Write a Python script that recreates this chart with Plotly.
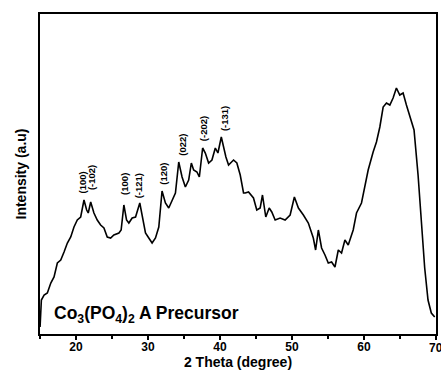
import plotly.graph_objects as go

# 2 theta (degree)
two_theta = [15.01, 15.19, 15.57, 16.02, 16.50, 16.95, 17.41, 17.88, 18.34, 18.80,
             19.27, 19.72, 20.18, 20.65, 21.11, 21.48, 21.70, 22.04, 22.49, 22.95,
             23.42, 23.88, 24.34, 24.81, 25.26, 25.96, 26.27, 26.65, 27.02, 27.34,
             27.80, 28.27, 28.86, 29.65, 30.11, 30.57, 31.04, 31.50, 31.95, 32.42,
             32.88, 33.34, 33.81, 34.27, 34.73, 35.19, 35.65, 36.02, 36.34, 36.80,
             37.13, 37.59, 37.96, 38.42, 38.88, 39.35, 39.71, 40.18, 40.50, 40.82,
             41.19, 41.88, 42.34, 42.81, 43.27, 43.50, 43.96, 44.65, 45.11, 45.58,
             45.90, 46.36, 46.83, 47.19, 47.66, 48.35, 49.04, 49.74, 50.33, 50.89,
             51.58, 52.27, 52.96, 53.28, 53.66, 54.11, 54.58, 55.04, 55.50, 55.97,
             56.43, 56.88, 57.35, 57.81, 58.50, 58.96, 59.65, 60.12, 60.58, 61.27,
             61.73, 62.20, 62.66, 63.12, 63.59, 64.04, 64.50, 64.97, 65.43, 65.89,
             66.35, 66.95, 67.51, 67.96, 68.43, 68.89, 69.35, 69.82]
# intensity (a.u.)
intensity = [7, 34, 39, 41, 51, 57, 71, 74, 82, 91,
             97, 107, 114, 117, 134, 124, 121, 132, 121, 114,
             109, 106, 97, 96, 99, 101, 104, 129, 114, 111,
             116, 117, 131, 101, 96, 91, 96, 107, 143, 131,
             126, 134, 141, 172, 157, 147, 154, 171, 164, 162,
             157, 186, 181, 171, 174, 186, 181, 197, 187, 177,
             169, 174, 171, 159, 141, 141, 142, 136, 124, 126,
             139, 117, 126, 122, 114, 116, 114, 119, 137, 126,
             119, 111, 96, 84, 104, 86, 79, 71, 72, 67,
             84, 81, 94, 89, 104, 121, 131, 147, 164, 182,
             192, 207, 227, 231, 229, 236, 246, 239, 241, 229,
             219, 204, 159, 113, 66, 34, 21, 17]

peak_labels = ["(100)", "(-102)", "(100)", "(-121)", "(120)", "(022)", "(-202)", "(-131)"]
peak_pos = [20.90, 22.17, 26.65, 28.73, 32.05, 34.68, 37.73, 40.64]
peak_base = [139, 142, 137, 134, 147, 176, 191, 201]

FONT = "Arial, Liberation Sans, sans-serif"

fig = go.Figure()
fig.add_trace(go.Scatter(x=two_theta, y=intensity, mode="lines",
                         line=dict(color="black", width=1.6), showlegend=False))

for lab, px, py in zip(peak_labels, peak_pos, peak_base):
    fig.add_annotation(x=px, y=py, xref="x", yref="y", text="<b>" + lab + "</b>",
                       showarrow=False, textangle=-90, yanchor="bottom", xanchor="center",
                       font=dict(family=FONT, size=9.5, color="black"))

fig.add_annotation(x=0.03, y=0.02, xref="paper", yref="paper",
                   text="<b>Co<sub>3</sub>(PO<sub>4</sub>)<sub>2</sub> A Precursor</b>",
                   showarrow=False, xanchor="left", yanchor="bottom",
                   font=dict(family=FONT, size=17.5, color="black"))

# last tick label sits at the right edge and is cut off in the original
fig.add_annotation(x=70, y=0, xref="x", yref="paper", text="<b>70</b>",
                   showarrow=False, xanchor="center", yanchor="top", yshift=-5,
                   font=dict(family=FONT, size=12, color="black"))

fig.update_layout(
    width=441, height=380,
    margin=dict(l=40, r=3, t=14, b=46),
    paper_bgcolor="white", plot_bgcolor="white",
    font=dict(family=FONT, color="black"),
    xaxis=dict(range=[15, 70], dtick=10, tick0=0, ticks="outside", ticklen=4,
               tickwidth=1.5, tickcolor="black",
               minor=dict(ticks="outside", dtick=5, tick0=0, ticklen=3, tickcolor="black"),
               showline=True, linecolor="black", linewidth=2, mirror=True,
               showgrid=False, zeroline=False,
               tickfont=dict(family=FONT, size=12, color="black"),
               ticklabelstandoff=-3,
               title=dict(text="<b>2 Theta (degree)</b>", standoff=2,
                          font=dict(family=FONT, size=14, color="black"))),
    yaxis=dict(range=[0, 320], showticklabels=False, ticks="",
               showline=True, linecolor="black", linewidth=2, mirror=True,
               showgrid=False, zeroline=False,
               title=dict(text="<b>Intensity (a.u)</b>", standoff=8,
                          font=dict(family=FONT, size=14, color="black"))),
)
fig.update_xaxes(tickprefix="<b>", ticksuffix="</b>")

fig.write_html("out.html")
